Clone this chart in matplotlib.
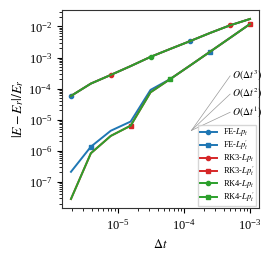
import numpy as np
import matplotlib
matplotlib.use("Agg")
import matplotlib.pyplot as plt

plt.rcParams['font.family'] = ['Liberation Serif', 'DejaVu Serif']
plt.rcParams['mathtext.fontset'] = 'stix'

dt = [1e-3 / 512, 1e-3 / 256, 1e-3 / 128, 1e-3 / 64, 1e-3 / 32,
      1e-3 / 16, 1e-3 / 8, 1e-3 / 4, 1e-3 / 2, 1e-3]

err_lpt = [5.8e-5, 1.45e-4, 2.75e-4, 5.3e-4, 1.05e-3, 1.9e-3, 3.4e-3, 6.2e-3, 1.09e-2, 1.74e-2]
fe_lptp = [2.1e-7, 1.35e-6, 4.4e-6, 8.7e-6, 9.1e-5, 2.05e-4, 5.6e-4, 1.55e-3, 4.3e-3, 1.2e-2]
rk_lptp = [2.8e-8, 8.3e-7, 3.0e-6, 6.4e-6, 7.6e-5, 2.05e-4, 5.6e-4, 1.55e-3, 4.3e-3, 1.2e-2]

series = [
    ("FE-$Lp_t$", err_lpt, '#1f77b4', 'o'),
    ("FE-$Lp_t^{\\prime}$", fe_lptp, '#1f77b4', 's'),
    ("RK3-$Lp_t$", err_lpt, '#d62728', 'o'),
    ("RK3-$Lp_t^{\\prime}$", rk_lptp, '#d62728', 's'),
    ("RK4-$Lp_t$", err_lpt, '#2ca02c', 'o'),
    ("RK4-$Lp_t^{\\prime}$", rk_lptp, '#2ca02c', 's'),
]

ref_dt = [1.3e-4, 5e-4]
ref_base = 4.5e-6
orders = [3, 2, 1]

fig = plt.figure(figsize=(2.72, 2.56), dpi=100)
ax = fig.add_axes([0.228, 0.1875, 0.724, 0.7735])

for j, (lab, ys, c, m) in enumerate(series):
    ax.plot(dt, ys, color=c, marker=m, markersize=3, lw=1.4,
            markevery=(j, 6), label=lab)

for p in orders:
    yy = [ref_base, ref_base * (ref_dt[1] / ref_dt[0]) ** p]
    ax.plot(ref_dt, yy, color='0.6', lw=0.5)
    ax.text(ref_dt[1] * 1.05, yy[1], r'$O(\Delta t^{%d})$' % p,
            fontsize=7, va='center', ha='left')

ax.set_xscale('log')
ax.set_yscale('log')
ax.set_xlabel(r'$\Delta t$', fontsize=9)
ax.set_ylabel(r'$|E-E_r|/E_r$', fontsize=10, labelpad=2)
ax.tick_params(labelsize=9)
for s in ax.spines.values():
    s.set_color('0.2')
    s.set_linewidth(0.8)

leg = ax.legend(loc='lower right', fontsize=6, fancybox=False,
                edgecolor='0.8', labelspacing=0.0, borderaxespad=0.3,
                borderpad=0.2, handleheight=0.5)

fig.savefig('out.png', dpi=100)
